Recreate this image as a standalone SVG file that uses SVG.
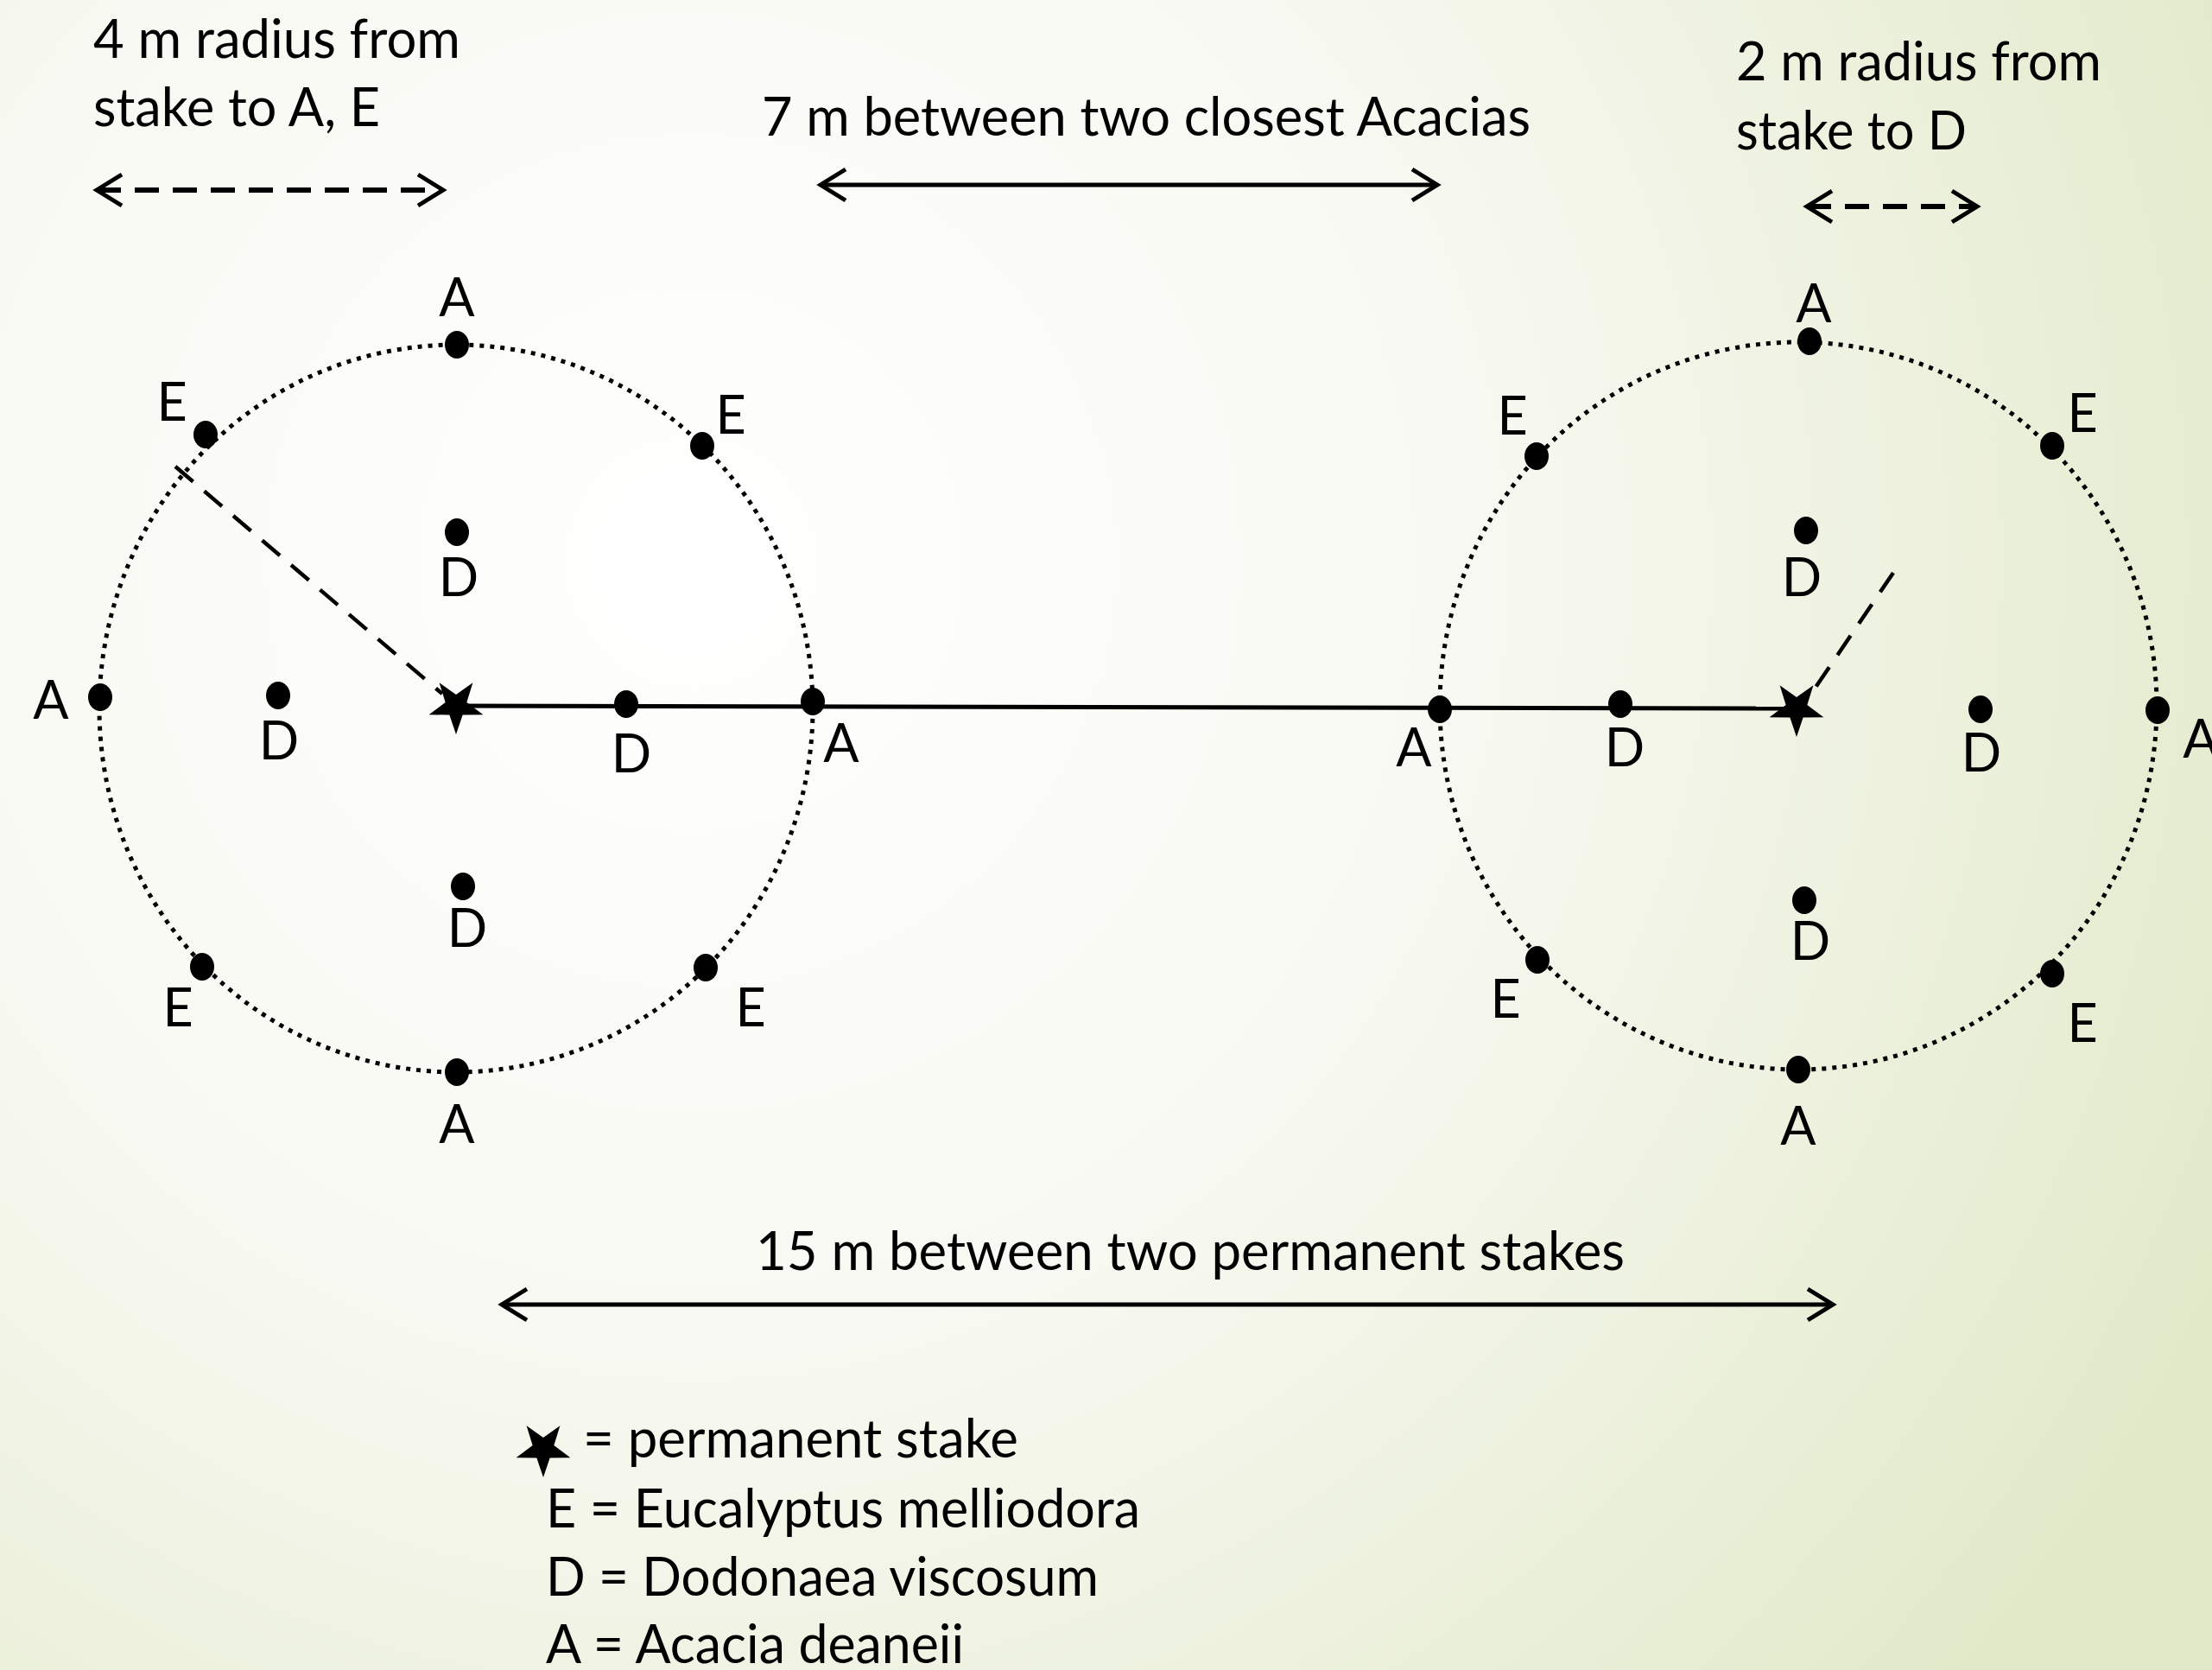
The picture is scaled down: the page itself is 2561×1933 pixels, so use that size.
<svg xmlns="http://www.w3.org/2000/svg" width="2561" height="1933" viewBox="0 0 2561 1933">
<defs>
<radialGradient id="bg" gradientUnits="userSpaceOnUse" cx="800" cy="650" r="2000">
<stop offset="0" stop-color="#ffffff"/>
<stop offset="0.45" stop-color="#f8f9f2"/>
<stop offset="1" stop-color="#e1e9c8"/>
</radialGradient>
<marker id="chev" markerUnits="userSpaceOnUse" viewBox="-34 -22 40 44" markerWidth="40" markerHeight="44" refX="0" refY="0" orient="auto-start-reverse">
<path d="M-29,-18 L0,0 L-29,18" fill="none" stroke="#000" stroke-width="5" stroke-dasharray="none"/>
</marker>
<polygon id="star" points="0,33 -7.64,10.52 -31.38,10.2 -12.36,-4.02 -19.4,-26.7 0,-13 19.4,-26.7 12.36,-4.02 31.38,10.2 7.64,10.52" fill="#000"/>
</defs>
<style>
text{font-family:Lato,"Liberation Sans",sans-serif;font-size:61px;fill:#000}
.lbl{text-anchor:middle}
.ring{fill:none;stroke:#000;stroke-width:5;stroke-dasharray:5 7}
.dot{fill:#000}
.solid{fill:none;stroke:#000;stroke-width:5}
.dash{fill:none;stroke:#000;stroke-width:6;stroke-dasharray:28 16}
.rad{fill:none;stroke:#000;stroke-width:4.5;stroke-dasharray:27 17}
</style>
<rect x="0" y="0" width="2561" height="1933" fill="url(#bg)"/>

<g id="annotations">
<text x="108" y="67" textLength="425" lengthAdjust="spacingAndGlyphs">4 m radius from</text>
<text x="108" y="146" textLength="332" lengthAdjust="spacingAndGlyphs">stake to A, E</text>
<text x="882" y="157" textLength="890" lengthAdjust="spacingAndGlyphs">7 m between two closest Acacias</text>
<text x="2010" y="93" textLength="423" lengthAdjust="spacingAndGlyphs">2 m radius from</text>
<text x="2010" y="173" textLength="267" lengthAdjust="spacingAndGlyphs">stake to D</text>
<text x="875" y="1470" textLength="1006" lengthAdjust="spacingAndGlyphs">15 m between two permanent stakes</text>
</g>

<g id="connectors">
<line class="dash" x1="112" y1="220" x2="513" y2="220" marker-start="url(#chev)" marker-end="url(#chev)"/>
<line class="solid" x1="950" y1="214" x2="1664" y2="214" marker-start="url(#chev)" marker-end="url(#chev)"/>
<line class="dash" x1="2092" y1="239" x2="2289" y2="239" marker-start="url(#chev)" marker-end="url(#chev)"/>
<line class="solid" x1="581" y1="1510" x2="2122" y2="1510" marker-start="url(#chev)" marker-end="url(#chev)"/>
<line class="solid" x1="528" y1="817" x2="2080" y2="820"/>
<line class="rad" x1="203" y1="540" x2="512" y2="803"/>
<line class="rad" x1="2192" y1="663" x2="2097" y2="803"/>
</g>

<g id="left-plot">
<ellipse class="ring" cx="528" cy="820" rx="413" ry="421"/>
<ellipse class="dot" cx="529" cy="399" rx="14" ry="16"/>
<ellipse class="dot" cx="238" cy="503" rx="14" ry="16"/>
<ellipse class="dot" cx="813" cy="516" rx="14" ry="16"/>
<ellipse class="dot" cx="529" cy="616" rx="14" ry="16"/>
<ellipse class="dot" cx="116" cy="807" rx="14" ry="16"/>
<ellipse class="dot" cx="322" cy="805" rx="14" ry="16"/>
<ellipse class="dot" cx="725" cy="815" rx="14" ry="16"/>
<ellipse class="dot" cx="941" cy="812" rx="14" ry="16"/>
<ellipse class="dot" cx="536" cy="1026" rx="14" ry="16"/>
<ellipse class="dot" cx="234" cy="1119" rx="14" ry="16"/>
<ellipse class="dot" cx="817" cy="1120" rx="14" ry="16"/>
<ellipse class="dot" cx="529" cy="1241" rx="14" ry="16"/>
<use href="#star" x="528" y="817"/>
<text class="lbl" x="529" y="366">A</text>
<text class="lbl" x="199" y="487">E</text>
<text class="lbl" x="846" y="502">E</text>
<text class="lbl" x="531" y="690">D</text>
<text class="lbl" x="59" y="832">A</text>
<text class="lbl" x="323" y="879">D</text>
<text class="lbl" x="731" y="894">D</text>
<text class="lbl" x="974" y="882">A</text>
<text class="lbl" x="541" y="1096">D</text>
<text class="lbl" x="206" y="1188">E</text>
<text class="lbl" x="869" y="1188">E</text>
<text class="lbl" x="529" y="1323">A</text>
</g>

<g id="right-plot">
<ellipse class="ring" cx="2082" cy="817" rx="415" ry="421"/>
<ellipse class="dot" cx="2095" cy="395" rx="14" ry="16"/>
<ellipse class="dot" cx="1779" cy="528" rx="14" ry="16"/>
<ellipse class="dot" cx="2376" cy="516" rx="14" ry="16"/>
<ellipse class="dot" cx="2091" cy="614" rx="14" ry="16"/>
<ellipse class="dot" cx="1667" cy="821" rx="14" ry="16"/>
<ellipse class="dot" cx="1876" cy="815" rx="14" ry="16"/>
<ellipse class="dot" cx="2293" cy="821" rx="14" ry="16"/>
<ellipse class="dot" cx="2498" cy="822" rx="14" ry="16"/>
<ellipse class="dot" cx="2089" cy="1042" rx="14" ry="16"/>
<ellipse class="dot" cx="1780" cy="1111" rx="14" ry="16"/>
<ellipse class="dot" cx="2376" cy="1127" rx="14" ry="16"/>
<ellipse class="dot" cx="2082" cy="1238" rx="14" ry="16"/>
<use href="#star" x="2080" y="820"/>
<text class="lbl" x="2100" y="373">A</text>
<text class="lbl" x="1751" y="503">E</text>
<text class="lbl" x="2411" y="500">E</text>
<text class="lbl" x="2086" y="690">D</text>
<text class="lbl" x="1637" y="887">A</text>
<text class="lbl" x="1881" y="887">D</text>
<text class="lbl" x="2294" y="893">D</text>
<text class="lbl" x="2548" y="877">A</text>
<text class="lbl" x="2096" y="1111">D</text>
<text class="lbl" x="1743" y="1178">E</text>
<text class="lbl" x="2411" y="1206">E</text>
<text class="lbl" x="2082" y="1325">A</text>
</g>

<g id="legend">
<use href="#star" x="629" y="1677"/>
<text x="675" y="1687" textLength="504" lengthAdjust="spacingAndGlyphs">= permanent stake</text>
<text x="632" y="1768" textLength="688" lengthAdjust="spacingAndGlyphs">E = Eucalyptus melliodora</text>
<text x="632" y="1847" textLength="640" lengthAdjust="spacingAndGlyphs">D = Dodonaea viscosum</text>
<text x="632" y="1925" textLength="484" lengthAdjust="spacingAndGlyphs">A = Acacia deaneii</text>
</g>
</svg>
